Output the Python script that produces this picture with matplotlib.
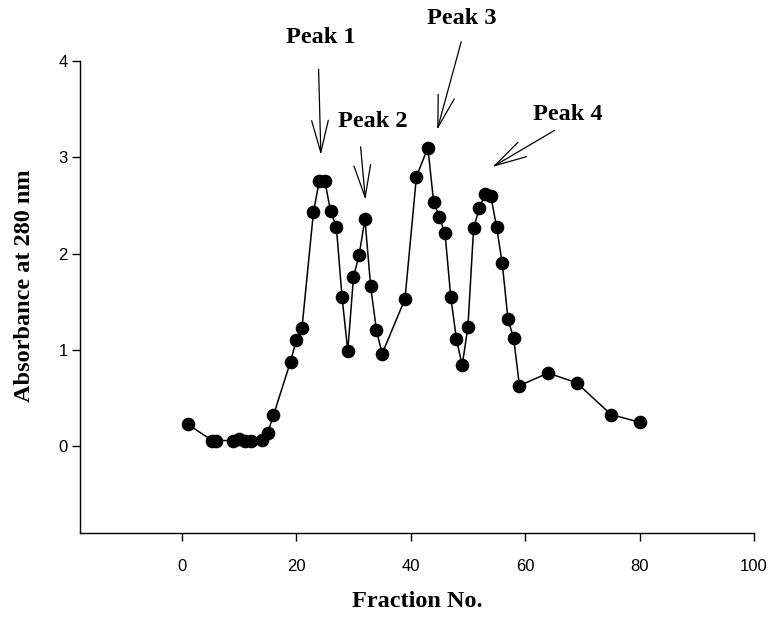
import matplotlib
matplotlib.use("Agg")
import matplotlib.pyplot as plt

fraction = [1, 5.3, 6, 9, 10, 11, 12, 14, 15, 16, 19, 20, 21, 23, 24, 25, 26, 27,
            28, 29, 30, 31, 32, 33, 34, 35, 39, 41, 43, 44, 45, 46, 47, 48, 49, 50,
            51, 52, 53, 54, 55, 56, 57, 58, 59, 64, 69, 75, 80]
absorbance = [0.23, 0.06, 0.06, 0.06, 0.08, 0.06, 0.06, 0.07, 0.14, 0.32, 0.88, 1.10,
              1.23, 2.43, 2.75, 2.75, 2.44, 2.28, 1.55, 0.99, 1.76, 1.99, 2.36, 1.66,
              1.21, 0.96, 1.53, 2.80, 3.10, 2.54, 2.38, 2.21, 1.55, 1.11, 0.84, 1.24,
              2.27, 2.47, 2.62, 2.60, 2.28, 1.90, 1.32, 1.12, 0.63, 0.76, 0.66, 0.33, 0.25]

peak_labels = ["Peak 1", "Peak 2", "Peak 3", "Peak 4"]
peak_text_xy = [(24.3, 4.24), (33.3, 3.37), (48.95, 4.44), (67.5, 3.44)]
peak_arrow_start = [(23.9, 3.915), (31.24, 3.11), (48.83, 4.20), (65.16, 3.28)]
peak_arrow_tip = [(24.3, 3.025), (32.08, 2.56), (44.63, 3.285), (54.3, 2.90)]

xticks = [0, 20, 40, 60, 80, 100]
yticks = [0, 1, 2, 3, 4]

fig = plt.figure(figsize=(7.74, 6.21), dpi=100)
ax = fig.add_axes([80/774, 1 - 533/621, (754-80)/774, (533-61)/621])

ax.plot(fraction, absorbance, color="black", linewidth=1.1, marker="o",
        markersize=8.8, markerfacecolor="black", markeredgecolor="black")

ax.set_xlim(-17.8, 100)
ax.set_ylim(-0.9, 4)
ax.set_xticks(xticks)
ax.set_yticks(yticks)
for s in ["top", "right"]:
    ax.spines[s].set_visible(False)
for s in ["left", "bottom"]:
    ax.spines[s].set_linewidth(1.0)
ax.tick_params(direction="out", length=6, width=1.0, labelsize=12)
for lab in ax.get_xticklabels() + ax.get_yticklabels():
    lab.set_family("Liberation Sans")
ax.tick_params(axis="x", pad=13)
ax.tick_params(axis="y", pad=3)

serif = dict(family="Liberation Serif", weight="bold", fontsize=17.5)
ax.set_xlabel("Fraction No.", labelpad=12, **serif)
ax.set_ylabel("Absorbance at 280 nm", **serif)
ax.yaxis.set_label_coords(-0.067, 0.525)

for lab, txy, st, tip in zip(peak_labels, peak_text_xy, peak_arrow_start, peak_arrow_tip):
    ax.text(txy[0], txy[1], lab, ha="center", va="center", clip_on=False, **serif)
    ax.annotate("", xy=tip, xytext=st, annotation_clip=False,
                arrowprops=dict(arrowstyle="->,head_length=1.15,head_width=0.3",
                                color="black", lw=0.9, mutation_scale=20,
                                shrinkA=0, shrinkB=0))

fig.savefig("out.png", dpi=100)
